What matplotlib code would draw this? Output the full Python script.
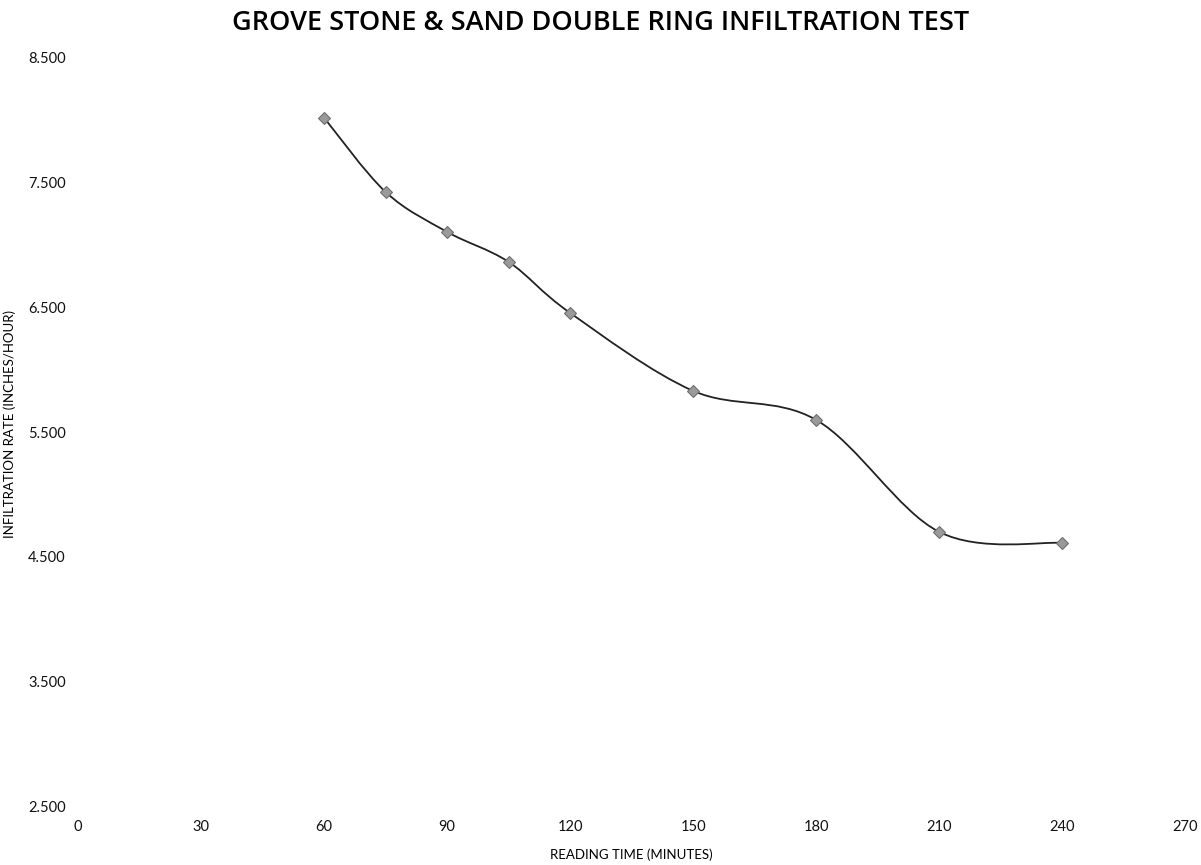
import matplotlib
matplotlib.use("Agg")
import matplotlib.pyplot as plt
from matplotlib.path import Path
from matplotlib.patches import PathPatch
import numpy as np

# reading times (minutes) and infiltration rates (inches/hour)
minutes = [60, 75, 90, 105, 120, 150, 180, 210, 240]
rates = [8.02, 7.425, 7.105, 6.864, 6.455, 5.83, 5.597, 4.699, 4.611]

xticks = [0, 30, 60, 90, 120, 150, 180, 210, 240, 270]
yticks = [2.5, 3.5, 4.5, 5.5, 6.5, 7.5, 8.5]


def smooth_path(xs, ys):
    # excel-style smoothed line: cubic bezier segments (catmull-rom tangents)
    pts = np.column_stack([xs, ys]).astype(float)
    n = len(pts)
    verts = [pts[0]]
    codes = [Path.MOVETO]
    for i in range(n - 1):
        p0 = pts[i - 1] if i > 0 else pts[i]
        p1 = pts[i]
        p2 = pts[i + 1]
        p3 = pts[i + 2] if i + 2 < n else pts[i + 1]
        c1 = p1 + (p2 - p0) / 6.0
        c2 = p2 - (p3 - p1) / 6.0
        verts += [c1, c2, p2]
        codes += [Path.CURVE4] * 3
    return Path(verts, codes)


fig = plt.figure(figsize=(12.01, 8.65), dpi=100)
ax = fig.add_axes([0.065, 0.068, 0.922, 0.865])

ax.add_patch(PathPatch(smooth_path(minutes, rates), facecolor="none",
                       edgecolor="#222222", lw=1.3, zorder=2))
ax.plot(minutes, rates, ls="none", marker="D", ms=6.5, mfc="#9a9a9a",
        mec="#707070", mew=0.8, zorder=3)

ax.set_xlim(0, 270)
ax.set_ylim(2.5, 8.5)
ax.set_xticks(xticks)
ax.set_xticklabels([str(t) for t in xticks])
ax.set_yticks(yticks)
ax.set_yticklabels(["%.3f" % t for t in yticks])

for s in ax.spines.values():
    s.set_visible(False)
ax.tick_params(length=0, labelsize=10.5, colors="#111111")
ax.tick_params(axis="y", pad=9)
ax.tick_params(axis="x", pad=10)
for lab in ax.get_xticklabels() + ax.get_yticklabels():
    lab.set_family("Lato")

ax.set_xlabel("READING TIME (MINUTES)", family="Lato", fontsize=9.5, labelpad=10)
fig.text(10 / 1201, 1 - 424 / 865, "INFILTRATION RATE (INCHES/HOUR)",
         family="Lato", fontsize=9.5, rotation=90, ha="center", va="center")
fig.suptitle("GROVE STONE & SAND DOUBLE RING INFILTRATION TEST",
             family="Open Sans", fontweight="semibold", fontsize=19.5, y=0.99)

fig.savefig("out.png", dpi=100)
